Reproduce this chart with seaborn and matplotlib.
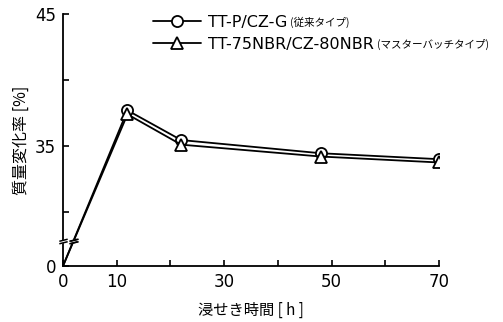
import numpy as np
import pandas as pd
import matplotlib
matplotlib.use("Agg")
import matplotlib.pyplot as plt
import seaborn as sns
from matplotlib.path import Path

# ---- data ----
hours = [0, 12, 22, 48, 70]
conventional = [0, 37.7, 35.45, 34.45, 34.0]
masterbatch = [0, 37.4, 35.1, 34.2, 33.75]
series_names = ["TT-P/CZ-G", "TT-75NBR/CZ-80NBR"]
series_notes = ["(従来タイプ)", "(マスターバッチタイプ)"]
x_major = [0, 10, 30, 50, 70]
x_minor = [20, 40, 60]
y_major = [0, 35, 45]
y_minor = [30, 40]
x_label = "浸せき時間 [ h ]"
y_label = "質量変化率 [%]"

# broken (compressed) y scale below the break
BRK = 27.8
K = 0.0681


def fwd(v):
    v = np.asarray(v, dtype=float)
    return np.where(v < BRK, v * K, BRK * K + v - BRK)


def inv(u):
    u = np.asarray(u, dtype=float)
    return np.where(u < BRK * K, u / K, u - BRK * K + BRK)


sns.set_theme(style="white")
plt.rcParams["font.family"] = ["DejaVu Sans", "Noto Sans CJK JP"]

W, H = 503, 322
fig = plt.figure(figsize=(W / 100, H / 100), dpi=100)
ax = fig.add_axes([63 / W, 1 - 266 / H, 376 / W, 252 / H])

df1 = pd.DataFrame({"h": hours, "v": conventional})
df2 = pd.DataFrame({"h": hours, "v": masterbatch})

common = dict(color="black", linewidth=1.3, markerfacecolor="white",
              markeredgecolor="black", markeredgewidth=1.3,
              markevery=list(range(1, len(hours))), ms=8)
sns.lineplot(data=df1, x="h", y="v", ax=ax, marker="o", label=series_names[0], **common)
sns.lineplot(data=df2, x="h", y="v", ax=ax, marker="^", label=series_names[1], **common)

ax.set_yscale("function", functions=(fwd, inv))
ax.set_xlim(0, 70)
ax.set_ylim(0, 45)
ax.set_xticks(x_major)
ax.set_xticks(x_minor, minor=True)
ax.set_yticks(y_major)
ax.set_yticks(y_minor, minor=True)
ax.set_xticklabels([str(t) for t in x_major])
ax.set_yticklabels([str(t) for t in y_major])
ax.yaxis.set_minor_formatter(plt.NullFormatter())
ax.xaxis.set_minor_formatter(plt.NullFormatter())
ax.tick_params(which="both", direction="in", length=4, width=1.2, color="black",
               labelsize=12, labelcolor="black", pad=5,
               bottom=True, left=True, top=False, right=False)
sns.despine(ax=ax)
for s in ("left", "bottom"):
    ax.spines[s].set_color("black")
    ax.spines[s].set_linewidth(1.3)

ax.set_xlabel(x_label, fontsize=11, family=["Noto Sans CJK JP"], color="black")
ax.set_ylabel(y_label, fontsize=11.5, family=["Noto Sans CJK JP"], color="black")
ax.xaxis.set_label_coords(0.5, -0.142)
ax.yaxis.set_label_coords(-0.088, 0.5)

# break symbols
brk_path = Path([(-1, -0.55), (1, -0.05), (-1, 0.05), (1, 0.55)],
                [Path.MOVETO, Path.LINETO, Path.MOVETO, Path.LINETO])
gap_path = Path([(-1, -0.55), (1, -0.05), (1, 0.55), (-1, 0.05), (-1, -0.55)],
                [Path.MOVETO, Path.LINETO, Path.LINETO, Path.LINETO, Path.CLOSEPOLY])
bx = [0.0]
by = [BRK]
for vals in (conventional, masterbatch):
    t = float(fwd(BRK) / fwd(vals[1]))
    bx.append(hours[1] * t)
    by.append(BRK)
ax.plot(bx, by, linestyle="none", marker=gap_path, ms=6, mfc="white", mec="white",
        mew=0.5, clip_on=False, zorder=5)
ax.plot(bx, by, linestyle="none", marker=brk_path, ms=6, mec="black", mew=1.1,
        clip_on=False, zorder=6)

leg = ax.legend(loc="upper left", bbox_to_anchor=(153 / W, 1 - 15 / H),
                bbox_transform=fig.transFigure, frameon=False, fontsize=11.5,
                handlelength=3.0, handletextpad=0.45, borderpad=0, borderaxespad=0,
                labelspacing=0.42)
for t in leg.get_texts():
    t.set_color("black")

fig.canvas.draw()
for t, note in zip(leg.get_texts(), series_notes):
    bb = t.get_window_extent()
    fig.text((bb.x1 + 3) / W, (bb.y0 + bb.y1) / 2 / H, note, fontsize=7.6,
             family=["Noto Sans CJK JP"], va="center", ha="left", color="black")

fig.savefig("out.png", dpi=100)
